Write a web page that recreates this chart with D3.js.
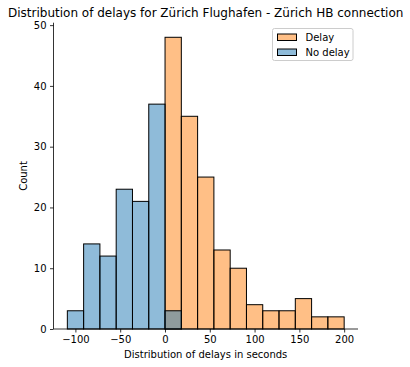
<!DOCTYPE html>
<html><head><meta charset="utf-8">
<script src="https://cdn.jsdelivr.net/npm/d3@7/dist/d3.min.js"></script>
<style>body{margin:0;background:#fff}svg{display:block;font-family:"DejaVu Sans",sans-serif}</style>
</head><body><div id="chart"></div>
<script>
const title = "Distribution of delays for Zürich Flughafen - Zürich HB connection";
const xLabel = "Distribution of delays in seconds";
const yLabel = "Count";
const binStart = -109, binEnd = 200, nBins = 17;
const noDelayCounts = [3, 14, 12, 23, 21, 37, 3, 0, 0, 0, 0, 0, 0, 0, 0, 0, 0];
const delayCounts   = [0, 0, 0, 0, 0, 0, 48, 35, 25, 13, 10, 4, 3, 3, 5, 2, 2];
const xTicks = [-100, -50, 0, 50, 100, 150, 200];
const yTicks = [0, 10, 20, 30, 40, 50];
const legendItems = ["Delay", "No delay"];
const colors = {"Delay": "#ff7f0e", "No delay": "#1f77b4"};

const W = 410, H = 367;
const svg = d3.select("#chart").append("svg").attr("width", W).attr("height", H);
const bw = (binEnd - binStart) / nBins;
const edges = d3.range(nBins + 1).map(i => binStart + i * bw);
const pad = (binEnd - binStart) * 0.05;
const x = d3.scaleLinear().domain([binStart - pad, binEnd + pad]).range([53.5, 358]);
const ymax = d3.max(delayCounts.concat(noDelayCounts)) * 1.05;
const y = d3.scaleLinear().domain([0, ymax]).range([329, 22.7]);

function drawSeries(counts, color) {
  svg.append("g").selectAll("rect").data(counts.map((c, i) => ({c, i})).filter(d => d.c > 0))
    .join("rect")
    .attr("x", d => x(edges[d.i]))
    .attr("width", d => x(edges[d.i + 1]) - x(edges[d.i]))
    .attr("y", d => y(d.c))
    .attr("height", d => y(0) - y(d.c))
    .attr("fill", color).attr("fill-opacity", 0.5)
    .attr("stroke", "#000").attr("stroke-width", 1);
}
drawSeries(delayCounts, colors["Delay"]);
drawSeries(noDelayCounts, colors["No delay"]);

const fmt = d => d < 0 ? "\u2212" + Math.abs(d) : String(d);
const xa = svg.append("g").attr("transform", `translate(0,${y(0)})`)
  .call(d3.axisBottom(x).tickValues(xTicks).tickFormat(fmt).tickSize(3.5).tickPadding(3.5));
const ya = svg.append("g").attr("transform", `translate(${x.range()[0]},0)`)
  .call(d3.axisLeft(y).tickValues(yTicks).tickFormat(fmt).tickSize(3.5).tickPadding(3.5));
[xa, ya].forEach(a => {
  a.selectAll("text").attr("font-size", 10).attr("fill", "#000").attr("font-family", "DejaVu Sans");
  a.selectAll("line").attr("stroke", "#000").attr("stroke-width", 0.8);
  a.select(".domain").attr("stroke", "#000").attr("stroke-width", 0.8);
});
xa.select(".domain").attr("d", `M${x.range()[0]},0H${x.range()[1]}`);
ya.select(".domain").attr("d", `M0,${y.range()[0]}V${y.range()[1]}`);

svg.append("text").attr("x", 205.7).attr("y", 17).attr("text-anchor", "middle")
  .attr("font-size", 12).attr("fill", "#000").text(title);
svg.append("text").attr("x", 205.7).attr("y", 358).attr("text-anchor", "middle")
  .attr("font-size", 10).attr("fill", "#000").text(xLabel);
svg.append("text").attr("transform", "translate(27,176) rotate(-90)").attr("text-anchor", "middle")
  .attr("font-size", 10).attr("fill", "#000").text(yLabel);

const lg = svg.append("g");
lg.append("rect").attr("x", 272.5).attr("y", 28.5).attr("width", 80.5).attr("height", 32)
  .attr("rx", 2).attr("fill", "#fff").attr("fill-opacity", 0.8).attr("stroke", "#ccc").attr("stroke-width", 1);
legendItems.forEach((k, i) => {
  const yy = 34 + i * 15;
  lg.append("rect").attr("x", 277.5).attr("y", yy).attr("width", 19).attr("height", 6.5)
    .attr("fill", colors[k]).attr("fill-opacity", 0.5).attr("stroke", "#000").attr("stroke-width", 1);
  lg.append("text").attr("x", 305.5).attr("y", yy + 7).attr("font-size", 10).attr("fill", "#000").text(k);
});
</script></body></html>
